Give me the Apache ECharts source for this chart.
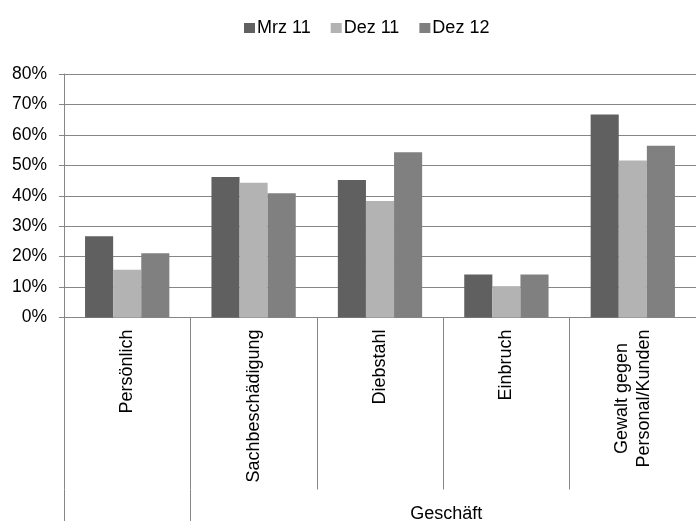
<!DOCTYPE html>
<html>
<head>
<meta charset="utf-8">
<script src="https://cdn.jsdelivr.net/npm/echarts@6/dist/echarts.min.js"></script>
<style>
  html, body { margin: 0; padding: 0; background: #fff; }
  #chart { width: 696px; height: 521px; }
</style>
</head>
<body>
<div id="chart"></div>
<script>
// Incident categories (first one stands alone, the other four belong to "Geschäft")
const categories = ['Persönlich', 'Sachbeschädigung', 'Diebstahl', 'Einbruch', 'Gewalt gegen\nPersonal/Kunden'];
const groupLabel = 'Geschäft';
const seriesNames = ['Mrz 11', 'Dez 11', 'Dez 12'];
// Shares in percent
const mrz11 = [26.7, 46.2, 45.2, 14.1, 66.7];
const dez11 = [15.7, 44.3, 38.3, 10.3, 51.6];
const dez12 = [21.1, 40.8, 54.3, 14.1, 56.4];
const yMin = 0, yMax = 80, yStep = 10;

const colors = ['#606060', '#b3b3b3', '#808080'];
const axisGray = '#868686';
const font = 'Liberation Sans, Arial, sans-serif';

const chart = echarts.init(document.getElementById('chart'), null, { renderer: 'canvas' });

const option = {
  animation: false,
  textStyle: { fontFamily: font, color: '#000' },
  color: colors,
  legend: {
    left: 244,
    top: 19,
    padding: 0,
    itemGap: 20,
    itemWidth: 11,
    itemHeight: 10,
    icon: 'rect',
    textStyle: { fontFamily: font, fontSize: 18, color: '#000', padding: [0, 0, 0, -3] },
    data: seriesNames
  },
  grid: { left: 64, top: 74, width: 641, height: 243.5, containLabel: false },
  xAxis: {
    type: 'category',
    data: categories,
    axisLine: { lineStyle: { color: axisGray, width: 1 } },
    axisTick: { show: true, interval: 0, length: 172, lineStyle: { color: axisGray, width: 1 } },
    axisLabel: {
      interval: 0,
      rotate: 90,
      margin: 12,
      fontSize: 18,
      lineHeight: 22,
      color: '#000',
      fontFamily: font,
      // each line centred within the label block
      formatter: v => v.split('\n').map(s => '{c|' + s + '}').join('\n'),
      rich: { c: { align: 'center', fontSize: 18, lineHeight: 22, fontFamily: font, color: '#000' } }
    }
  },
  yAxis: {
    type: 'value',
    min: yMin,
    max: yMax,
    interval: yStep,
    axisLine: { show: true, lineStyle: { color: axisGray, width: 1 } },
    axisTick: { show: true, length: 5, lineStyle: { color: axisGray } },
    splitLine: { lineStyle: { color: axisGray, width: 1 } },
    axisLabel: {
      margin: 17,
      fontSize: 17.5,
      color: '#000',
      fontFamily: font,
      formatter: v => v + '%'
    }
  },
  series: [
    { name: seriesNames[0], type: 'bar', data: mrz11, barGap: '0%', barCategoryGap: '33.3%' },
    { name: seriesNames[1], type: 'bar', data: dez11, barGap: '0%', barCategoryGap: '33.3%' },
    { name: seriesNames[2], type: 'bar', data: dez12, barGap: '0%', barCategoryGap: '33.3%' }
  ]
};

chart.setOption(option);

// Group separators below the axis and the group caption, placed from the axis scale
const c0 = chart.convertToPixel({ xAxisIndex: 0 }, 0);
const c1 = chart.convertToPixel({ xAxisIndex: 0 }, 1);
const c4 = chart.convertToPixel({ xAxisIndex: 0 }, 4);
const y0 = chart.convertToPixel({ yAxisIndex: 0 }, 0);
const half = (c1 - c0) / 2;
const tickEnd = y0 + 172;
const H = chart.getHeight();

chart.setOption({
  graphic: [
    { type: 'line', shape: { x1: Math.round(c0 - half) + 0.5, y1: tickEnd, x2: Math.round(c0 - half) + 0.5, y2: H },
      style: { stroke: axisGray, lineWidth: 1 } },
    { type: 'line', shape: { x1: Math.round(c0 + half) + 0.5, y1: tickEnd, x2: Math.round(c0 + half) + 0.5, y2: H },
      style: { stroke: axisGray, lineWidth: 1 } },
    { type: 'text', x: (c1 + c4) / 2 + 3, y: tickEnd + 25,
      style: { text: groupLabel, font: '18px ' + font, fill: '#000', textAlign: 'center', textVerticalAlign: 'middle' } }
  ]
});
</script>
</body>
</html>
